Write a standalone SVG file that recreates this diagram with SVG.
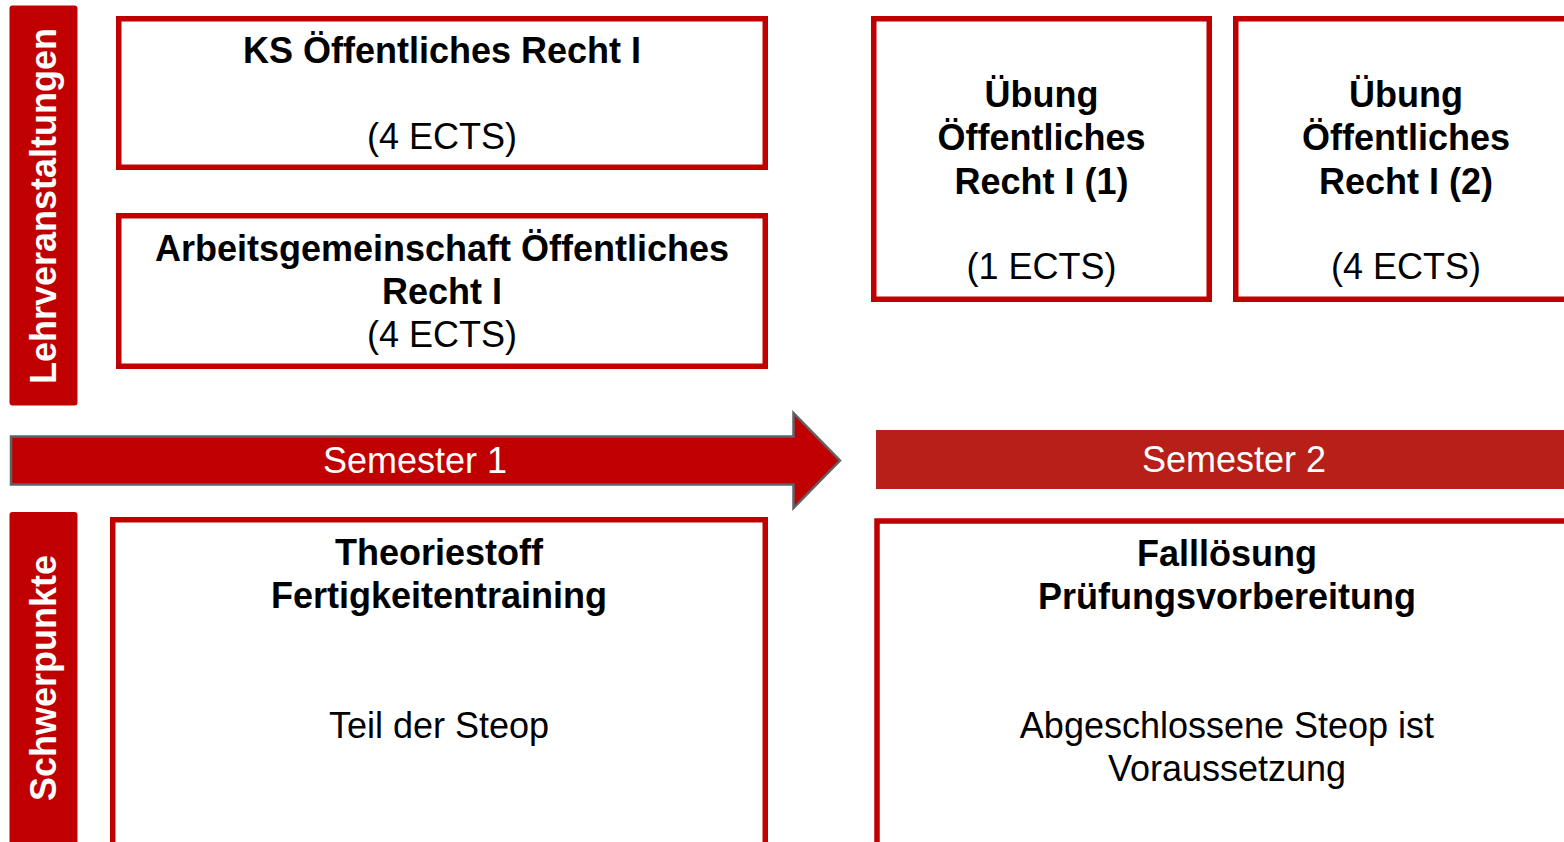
<svg xmlns="http://www.w3.org/2000/svg" width="1564" height="842" viewBox="0 0 1564 842">
<style>
.box{fill:#fff;stroke:#c00000;stroke-width:5.5}
.side{fill:#c00000}
.t{font-family:"Liberation Sans",Arial,sans-serif;font-size:36px;fill:#000;text-anchor:middle}
.b{font-weight:bold}
.w{fill:#fff}
</style>
<rect width="1564" height="842" fill="#fff"/>
<g id="label-lehr">
<rect class="side" x="9.5" y="5.5" width="68" height="400" rx="3"/>
<text class="t b w" transform="translate(56,206) rotate(-90)">Lehrveranstaltungen</text>
</g>
<g id="label-schwer">
<rect class="side" x="9.5" y="512" width="68" height="340" rx="3"/>
<text class="t b w" transform="translate(56,678) rotate(-90)">Schwerpunkte</text>
</g>
<g id="ks">
<rect class="box" x="118.75" y="18.75" width="646.5" height="148.5"/>
<text class="t b" x="442" y="63">KS Öffentliches Recht I</text>
<text class="t" x="442" y="149">(4 ECTS)</text>
</g>
<g id="ag">
<rect class="box" x="118.75" y="215.75" width="646.5" height="150.5"/>
<text class="t b" x="442" y="261">Arbeitsgemeinschaft Öffentliches</text>
<text class="t b" x="442" y="304">Recht I</text>
<text class="t" x="442" y="347">(4 ECTS)</text>
</g>
<g id="uebung1">
<rect class="box" x="873.75" y="18.75" width="335.5" height="280.5"/>
<text class="t b" x="1041.5" y="107">Übung</text>
<text class="t b" x="1041.5" y="150">Öffentliches</text>
<text class="t b" x="1041.5" y="194">Recht I (1)</text>
<text class="t" x="1041.5" y="279">(1 ECTS)</text>
</g>
<g id="uebung2">
<rect class="box" x="1235.75" y="18.75" width="340" height="280.5"/>
<text class="t b" x="1406" y="107">Übung</text>
<text class="t b" x="1406" y="150">Öffentliches</text>
<text class="t b" x="1406" y="194">Recht I (2)</text>
<text class="t" x="1406" y="279">(4 ECTS)</text>
</g>
<g id="semester1">
<polygon points="11,436.5 793.5,436.5 793.5,413 840,460.5 793.5,508 793.5,484.5 11,484.5" fill="#c00000" stroke="#5f6368" stroke-width="2.5" stroke-linejoin="miter"/>
<text class="t w" x="415" y="473">Semester 1</text>
</g>
<g id="semester2">
<rect x="876" y="430" width="720" height="59" fill="#b71f18"/>
<text class="t w" x="1234" y="472">Semester 2</text>
</g>
<g id="schwer1">
<rect class="box" x="112.75" y="519.75" width="652.5" height="340"/>
<text class="t b" x="439" y="565">Theoriestoff</text>
<text class="t b" x="439" y="608">Fertigkeitentraining</text>
<text class="t" x="439" y="738">Teil der Steop</text>
</g>
<g id="schwer2">
<rect class="box" x="877" y="521" width="710" height="340"/>
<text class="t b" x="1227" y="566">Falllösung</text>
<text class="t b" x="1227" y="609">Prüfungsvorbereitung</text>
<text class="t" x="1227" y="738">Abgeschlossene Steop ist</text>
<text class="t" x="1227" y="781">Voraussetzung</text>
</g>
<g id="connectors"></g>
</svg>
